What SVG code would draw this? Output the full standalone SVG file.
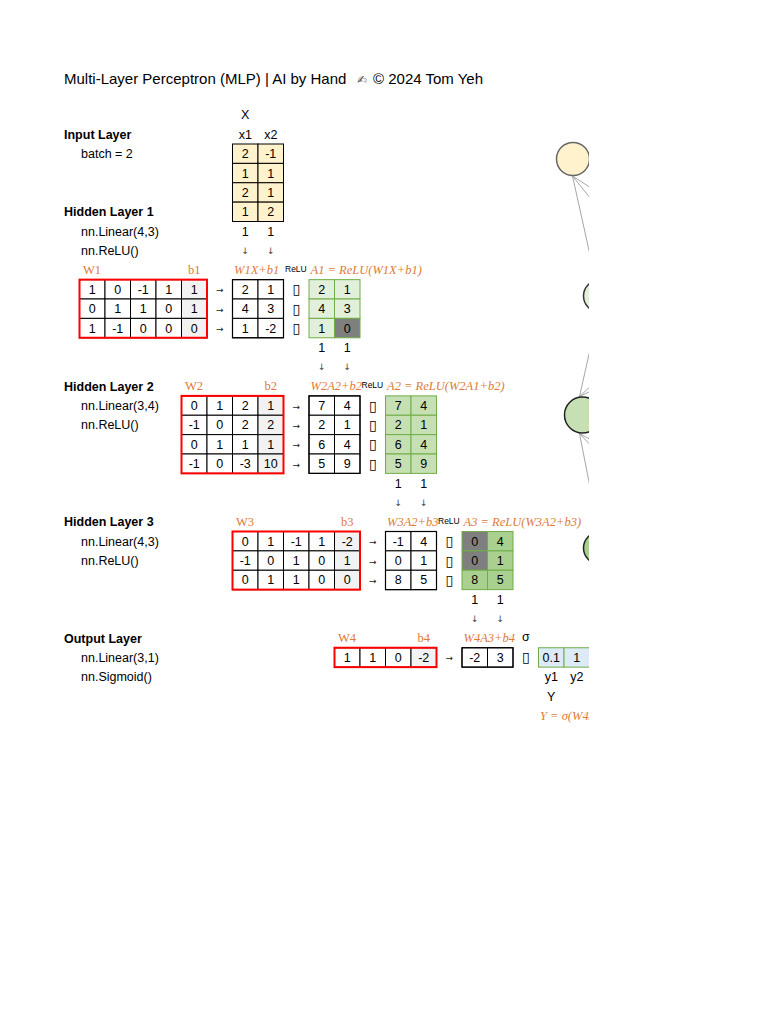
<svg xmlns="http://www.w3.org/2000/svg" width="768" height="1024" viewBox="0 0 768 1024">
<defs>
<clipPath id="page"><rect x="0" y="0" width="589" height="1024"/></clipPath>
<style>
text{font-family:"Liberation Sans",Arial,sans-serif;font-size:12.5px;fill:#000}
.m{text-anchor:middle}
.bd{font-weight:bold}
.o{font-family:"Liberation Serif","Times New Roman",serif;fill:#E07A36}
.i{font-style:italic}
.rl{font-size:8.5px}
.ar{font-family:"DejaVu Sans",sans-serif;font-size:9px;text-anchor:middle;fill:#222}
.dn{font-family:"DejaVu Sans",sans-serif;font-size:9px;text-anchor:middle;fill:#444}
.tf{font-family:"DejaVu Sans",sans-serif;font-size:14px;text-anchor:middle}
.k{fill:#fff;stroke:#000;stroke-width:1}
.kb{fill:#f2f2f2;stroke:#000;stroke-width:1}
.ky{fill:#FFF2CC;stroke:#000;stroke-width:1}
.g1{fill:#E2EFDA;stroke:#70AD47;stroke-width:1}
.g2{fill:#C6E0B4;stroke:#70AD47;stroke-width:1}
.g3{fill:#A9D08E;stroke:#70AD47;stroke-width:1}
.gr{fill:#7F7F7F;stroke:#70AD47;stroke-width:1}
.bl{fill:#DDEBF7;stroke:#70AD47;stroke-width:1}
.red{fill:none;stroke:#FF0000;stroke-width:2}
.ob{fill:none;stroke:#000;stroke-width:1.2}
.edge{stroke:#A6A6A6;stroke-width:1;fill:none}
</style>
</defs>
<rect width="768" height="1024" fill="#fff"/>
<g clip-path="url(#page)">

<g id="title">
<text x="64" y="84" style="font-size:15px">Multi-Layer Perceptron (MLP) | AI by Hand<tspan x="357" style="font-family:'DejaVu Sans',sans-serif;font-size:12px;fill:#555">✍</tspan><tspan x="373">© 2024 Tom Yeh</tspan></text>
</g>

<g id="layer-labels">
<text x="64" y="138.8" class="bd">Input Layer</text>
<text x="81" y="158.2">batch = 2</text>
<text x="64" y="216.3" class="bd">Hidden Layer 1</text>
<text x="81" y="235.7">nn.Linear(4,3)</text>
<text x="81" y="255.1">nn.ReLU()</text>
<text x="64" y="390.7" class="bd">Hidden Layer 2</text>
<text x="81" y="410.1">nn.Linear(3,4)</text>
<text x="81" y="429.4">nn.ReLU()</text>
<text x="64" y="526.3" class="bd">Hidden Layer 3</text>
<text x="81" y="545.7">nn.Linear(4,3)</text>
<text x="81" y="565.1">nn.ReLU()</text>
<text x="64" y="642.6" class="bd">Output Layer</text>
<text x="81" y="661.9">nn.Linear(3,1)</text>
<text x="81" y="681.3">nn.Sigmoid()</text>
</g>

<g id="input-X">
<text x="245.25" y="119.4" class="m">X</text>
<text x="245.25" y="138.8" class="m">x1</text>
<text x="270.75" y="138.8" class="m">x2</text>
<rect x="232.5" y="144" width="25.5" height="19.375" class="ky"/><rect x="258" y="144" width="25.5" height="19.375" class="ky"/>
<rect x="232.5" y="163.38" width="25.5" height="19.375" class="ky"/><rect x="258" y="163.38" width="25.5" height="19.375" class="ky"/>
<rect x="232.5" y="182.75" width="25.5" height="19.375" class="ky"/><rect x="258" y="182.75" width="25.5" height="19.375" class="ky"/>
<rect x="232.5" y="202.13" width="25.5" height="19.375" class="ky"/><rect x="258" y="202.13" width="25.5" height="19.375" class="ky"/>
<text x="245.25" y="158.2" class="m">2</text><text x="270.75" y="158.2" class="m">-1</text>
<text x="245.25" y="177.6" class="m">1</text><text x="270.75" y="177.6" class="m">1</text>
<text x="245.25" y="196.9" class="m">2</text><text x="270.75" y="196.9" class="m">1</text>
<text x="245.25" y="216.3" class="m">1</text><text x="270.75" y="216.3" class="m">2</text>
<text x="245.25" y="235.7" class="m">1</text><text x="270.75" y="235.7" class="m">1</text>
<text x="245.25" y="253.8" class="dn">↓</text><text x="270.75" y="253.8" class="dn">↓</text>
</g>

<g id="layer1">
<text x="83" y="274.1" class="o">W1</text>
<text x="194.25" y="274.1" class="o m">b1</text>
<text x="234" y="274.1" class="o i">W1X+b1</text>
<text x="285" y="271.7" class="rl">ReLU</text>
<text x="310.5" y="274.1" class="o i">A1 = ReLU(W1X+b1)</text>
<g id="W1">
<rect x="79.5" y="279.63" width="25.5" height="19.375" class="k"/><rect x="105" y="279.63" width="25.5" height="19.375" class="k"/><rect x="130.5" y="279.63" width="25.5" height="19.375" class="k"/><rect x="156" y="279.63" width="25.5" height="19.375" class="k"/><rect x="181.5" y="279.63" width="25.5" height="19.375" class="kb"/>
<rect x="79.5" y="299" width="25.5" height="19.375" class="k"/><rect x="105" y="299" width="25.5" height="19.375" class="k"/><rect x="130.5" y="299" width="25.5" height="19.375" class="k"/><rect x="156" y="299" width="25.5" height="19.375" class="k"/><rect x="181.5" y="299" width="25.5" height="19.375" class="kb"/>
<rect x="79.5" y="318.38" width="25.5" height="19.375" class="k"/><rect x="105" y="318.38" width="25.5" height="19.375" class="k"/><rect x="130.5" y="318.38" width="25.5" height="19.375" class="k"/><rect x="156" y="318.38" width="25.5" height="19.375" class="k"/><rect x="181.5" y="318.38" width="25.5" height="19.375" class="kb"/>
<rect x="79.5" y="279.63" width="127.5" height="58.13" class="red"/>
<text x="92.25" y="293.8" class="m">1</text><text x="117.75" y="293.8" class="m">0</text><text x="143.25" y="293.8" class="m">-1</text><text x="168.75" y="293.8" class="m">1</text><text x="194.25" y="293.8" class="m">1</text>
<text x="92.25" y="313.2" class="m">0</text><text x="117.75" y="313.2" class="m">1</text><text x="143.25" y="313.2" class="m">1</text><text x="168.75" y="313.2" class="m">0</text><text x="194.25" y="313.2" class="m">1</text>
<text x="92.25" y="332.6" class="m">1</text><text x="117.75" y="332.6" class="m">-1</text><text x="143.25" y="332.6" class="m">0</text><text x="168.75" y="332.6" class="m">0</text><text x="194.25" y="332.6" class="m">0</text>
</g>
<text x="219.75" y="293.3" class="ar">→</text><text x="219.75" y="312.7" class="ar">→</text><text x="219.75" y="332.1" class="ar">→</text>
<g id="Z1">
<rect x="232.5" y="279.63" width="25.5" height="19.375" class="k"/><rect x="258" y="279.63" width="25.5" height="19.375" class="k"/>
<rect x="232.5" y="299" width="25.5" height="19.375" class="k"/><rect x="258" y="299" width="25.5" height="19.375" class="k"/>
<rect x="232.5" y="318.38" width="25.5" height="19.375" class="k"/><rect x="258" y="318.38" width="25.5" height="19.375" class="k"/>
<rect x="232.5" y="279.63" width="51" height="58.13" class="ob"/>
<text x="245.25" y="293.8" class="m">2</text><text x="270.75" y="293.8" class="m">1</text>
<text x="245.25" y="313.2" class="m">4</text><text x="270.75" y="313.2" class="m">3</text>
<text x="245.25" y="332.6" class="m">1</text><text x="270.75" y="332.6" class="m">-2</text>
</g>
<text x="296.25" y="294.3" class="tf">▯</text><text x="296.25" y="313.7" class="tf">▯</text><text x="296.25" y="333.1" class="tf">▯</text>
<g id="A1">
<rect x="309" y="279.63" width="25.5" height="19.375" class="g1"/><rect x="334.5" y="279.63" width="25.5" height="19.375" class="g1"/>
<rect x="309" y="299" width="25.5" height="19.375" class="g1"/><rect x="334.5" y="299" width="25.5" height="19.375" class="g1"/>
<rect x="309" y="318.38" width="25.5" height="19.375" class="g1"/><rect x="334.5" y="318.38" width="25.5" height="19.375" class="gr"/>
<text x="321.75" y="293.8" class="m">2</text><text x="347.25" y="293.8" class="m">1</text>
<text x="321.75" y="313.2" class="m">4</text><text x="347.25" y="313.2" class="m">3</text>
<text x="321.75" y="332.6" class="m">1</text><text x="347.25" y="332.6" class="m">0</text>
<text x="321.75" y="351.9" class="m">1</text><text x="347.25" y="351.9" class="m">1</text>
<text x="321.75" y="370" class="dn">↓</text><text x="347.25" y="370" class="dn">↓</text>
</g>
</g>

<g id="layer2">
<text x="185" y="390.4" class="o">W2</text>
<text x="270.75" y="390.4" class="o m">b2</text>
<text x="310.5" y="390.4" class="o i">W2A2+b2</text>
<text x="361.5" y="388" class="rl">ReLU</text>
<text x="387" y="390.4" class="o i">A2 = ReLU(W2A1+b2)</text>
<g id="W2">
<rect x="181.5" y="395.88" width="25.5" height="19.375" class="k"/><rect x="207" y="395.88" width="25.5" height="19.375" class="k"/><rect x="232.5" y="395.88" width="25.5" height="19.375" class="k"/><rect x="258" y="395.88" width="25.5" height="19.375" class="kb"/>
<rect x="181.5" y="415.25" width="25.5" height="19.375" class="k"/><rect x="207" y="415.25" width="25.5" height="19.375" class="k"/><rect x="232.5" y="415.25" width="25.5" height="19.375" class="k"/><rect x="258" y="415.25" width="25.5" height="19.375" class="kb"/>
<rect x="181.5" y="434.63" width="25.5" height="19.375" class="k"/><rect x="207" y="434.63" width="25.5" height="19.375" class="k"/><rect x="232.5" y="434.63" width="25.5" height="19.375" class="k"/><rect x="258" y="434.63" width="25.5" height="19.375" class="kb"/>
<rect x="181.5" y="454" width="25.5" height="19.375" class="k"/><rect x="207" y="454" width="25.5" height="19.375" class="k"/><rect x="232.5" y="454" width="25.5" height="19.375" class="k"/><rect x="258" y="454" width="25.5" height="19.375" class="kb"/>
<rect x="181.5" y="395.88" width="102" height="77.5" class="red"/>
<text x="194.25" y="410.1" class="m">0</text><text x="219.75" y="410.1" class="m">1</text><text x="245.25" y="410.1" class="m">2</text><text x="270.75" y="410.1" class="m">1</text>
<text x="194.25" y="429.4" class="m">-1</text><text x="219.75" y="429.4" class="m">0</text><text x="245.25" y="429.4" class="m">2</text><text x="270.75" y="429.4" class="m">2</text>
<text x="194.25" y="448.8" class="m">0</text><text x="219.75" y="448.8" class="m">1</text><text x="245.25" y="448.8" class="m">1</text><text x="270.75" y="448.8" class="m">1</text>
<text x="194.25" y="468.2" class="m">-1</text><text x="219.75" y="468.2" class="m">0</text><text x="245.25" y="468.2" class="m">-3</text><text x="270.75" y="468.2" class="m">10</text>
</g>
<text x="296.25" y="409.6" class="ar">→</text><text x="296.25" y="428.9" class="ar">→</text><text x="296.25" y="448.3" class="ar">→</text><text x="296.25" y="467.7" class="ar">→</text>
<g id="Z2">
<rect x="309" y="395.88" width="25.5" height="19.375" class="k"/><rect x="334.5" y="395.88" width="25.5" height="19.375" class="k"/>
<rect x="309" y="415.25" width="25.5" height="19.375" class="k"/><rect x="334.5" y="415.25" width="25.5" height="19.375" class="k"/>
<rect x="309" y="434.63" width="25.5" height="19.375" class="k"/><rect x="334.5" y="434.63" width="25.5" height="19.375" class="k"/>
<rect x="309" y="454" width="25.5" height="19.375" class="k"/><rect x="334.5" y="454" width="25.5" height="19.375" class="k"/>
<rect x="309" y="395.88" width="51" height="77.5" class="ob"/>
<text x="321.75" y="410.1" class="m">7</text><text x="347.25" y="410.1" class="m">4</text>
<text x="321.75" y="429.4" class="m">2</text><text x="347.25" y="429.4" class="m">1</text>
<text x="321.75" y="448.8" class="m">6</text><text x="347.25" y="448.8" class="m">4</text>
<text x="321.75" y="468.2" class="m">5</text><text x="347.25" y="468.2" class="m">9</text>
</g>
<text x="372.75" y="410.6" class="tf">▯</text><text x="372.75" y="429.9" class="tf">▯</text><text x="372.75" y="449.3" class="tf">▯</text><text x="372.75" y="468.7" class="tf">▯</text>
<g id="A2">
<rect x="385.5" y="395.88" width="25.5" height="19.375" class="g2"/><rect x="411" y="395.88" width="25.5" height="19.375" class="g2"/>
<rect x="385.5" y="415.25" width="25.5" height="19.375" class="g2"/><rect x="411" y="415.25" width="25.5" height="19.375" class="g2"/>
<rect x="385.5" y="434.63" width="25.5" height="19.375" class="g2"/><rect x="411" y="434.63" width="25.5" height="19.375" class="g2"/>
<rect x="385.5" y="454" width="25.5" height="19.375" class="g2"/><rect x="411" y="454" width="25.5" height="19.375" class="g2"/>
<text x="398.25" y="410.1" class="m">7</text><text x="423.75" y="410.1" class="m">4</text>
<text x="398.25" y="429.4" class="m">2</text><text x="423.75" y="429.4" class="m">1</text>
<text x="398.25" y="448.8" class="m">6</text><text x="423.75" y="448.8" class="m">4</text>
<text x="398.25" y="468.2" class="m">5</text><text x="423.75" y="468.2" class="m">9</text>
<text x="398.25" y="487.6" class="m">1</text><text x="423.75" y="487.6" class="m">1</text>
<text x="398.25" y="505.6" class="dn">↓</text><text x="423.75" y="505.6" class="dn">↓</text>
</g>
</g>

<g id="layer3">
<text x="236" y="526" class="o">W3</text>
<text x="347.25" y="526" class="o m">b3</text>
<text x="387" y="526" class="o i">W3A2+b3</text>
<text x="438" y="523.6" class="rl">ReLU</text>
<text x="463.5" y="526" class="o i">A3 = ReLU(W3A2+b3)</text>
<g id="W3">
<rect x="232.5" y="531.5" width="25.5" height="19.375" class="k"/><rect x="258" y="531.5" width="25.5" height="19.375" class="k"/><rect x="283.5" y="531.5" width="25.5" height="19.375" class="k"/><rect x="309" y="531.5" width="25.5" height="19.375" class="k"/><rect x="334.5" y="531.5" width="25.5" height="19.375" class="kb"/>
<rect x="232.5" y="550.88" width="25.5" height="19.375" class="k"/><rect x="258" y="550.88" width="25.5" height="19.375" class="k"/><rect x="283.5" y="550.88" width="25.5" height="19.375" class="k"/><rect x="309" y="550.88" width="25.5" height="19.375" class="k"/><rect x="334.5" y="550.88" width="25.5" height="19.375" class="kb"/>
<rect x="232.5" y="570.25" width="25.5" height="19.375" class="k"/><rect x="258" y="570.25" width="25.5" height="19.375" class="k"/><rect x="283.5" y="570.25" width="25.5" height="19.375" class="k"/><rect x="309" y="570.25" width="25.5" height="19.375" class="k"/><rect x="334.5" y="570.25" width="25.5" height="19.375" class="kb"/>
<rect x="232.5" y="531.5" width="127.5" height="58.13" class="red"/>
<text x="245.25" y="545.7" class="m">0</text><text x="270.75" y="545.7" class="m">1</text><text x="296.25" y="545.7" class="m">-1</text><text x="321.75" y="545.7" class="m">1</text><text x="347.25" y="545.7" class="m">-2</text>
<text x="245.25" y="565.1" class="m">-1</text><text x="270.75" y="565.1" class="m">0</text><text x="296.25" y="565.1" class="m">1</text><text x="321.75" y="565.1" class="m">0</text><text x="347.25" y="565.1" class="m">1</text>
<text x="245.25" y="584.4" class="m">0</text><text x="270.75" y="584.4" class="m">1</text><text x="296.25" y="584.4" class="m">1</text><text x="321.75" y="584.4" class="m">0</text><text x="347.25" y="584.4" class="m">0</text>
</g>
<text x="372.75" y="545.2" class="ar">→</text><text x="372.75" y="564.6" class="ar">→</text><text x="372.75" y="583.9" class="ar">→</text>
<g id="Z3">
<rect x="385.5" y="531.5" width="25.5" height="19.375" class="k"/><rect x="411" y="531.5" width="25.5" height="19.375" class="k"/>
<rect x="385.5" y="550.88" width="25.5" height="19.375" class="k"/><rect x="411" y="550.88" width="25.5" height="19.375" class="k"/>
<rect x="385.5" y="570.25" width="25.5" height="19.375" class="k"/><rect x="411" y="570.25" width="25.5" height="19.375" class="k"/>
<rect x="385.5" y="531.5" width="51" height="58.13" class="ob"/>
<text x="398.25" y="545.7" class="m">-1</text><text x="423.75" y="545.7" class="m">4</text>
<text x="398.25" y="565.1" class="m">0</text><text x="423.75" y="565.1" class="m">1</text>
<text x="398.25" y="584.4" class="m">8</text><text x="423.75" y="584.4" class="m">5</text>
</g>
<text x="449.25" y="546.2" class="tf">▯</text><text x="449.25" y="565.6" class="tf">▯</text><text x="449.25" y="584.9" class="tf">▯</text>
<g id="A3">
<rect x="462" y="531.5" width="25.5" height="19.375" class="gr"/><rect x="487.5" y="531.5" width="25.5" height="19.375" class="g3"/>
<rect x="462" y="550.88" width="25.5" height="19.375" class="gr"/><rect x="487.5" y="550.88" width="25.5" height="19.375" class="g3"/>
<rect x="462" y="570.25" width="25.5" height="19.375" class="g3"/><rect x="487.5" y="570.25" width="25.5" height="19.375" class="g3"/>
<text x="474.75" y="545.7" class="m">0</text><text x="500.25" y="545.7" class="m">4</text>
<text x="474.75" y="565.1" class="m">0</text><text x="500.25" y="565.1" class="m">1</text>
<text x="474.75" y="584.4" class="m">8</text><text x="500.25" y="584.4" class="m">5</text>
<text x="474.75" y="603.8" class="m">1</text><text x="500.25" y="603.8" class="m">1</text>
<text x="474.75" y="621.9" class="dn">↓</text><text x="500.25" y="621.9" class="dn">↓</text>
</g>
</g>

<g id="output">
<text x="338" y="642.3" class="o">W4</text>
<text x="423.75" y="642.3" class="o m">b4</text>
<text x="463.5" y="642.3" class="o i">W4A3+b4</text>
<text x="525.75" y="641" class="m">σ</text>
<g id="W4">
<rect x="334.5" y="647.75" width="25.5" height="19.375" class="k"/><rect x="360" y="647.75" width="25.5" height="19.375" class="k"/><rect x="385.5" y="647.75" width="25.5" height="19.375" class="k"/><rect x="411" y="647.75" width="25.5" height="19.375" class="kb"/>
<rect x="334.5" y="647.75" width="102" height="19.375" class="red"/>
<text x="347.25" y="661.9" class="m">1</text><text x="372.75" y="661.9" class="m">1</text><text x="398.25" y="661.9" class="m">0</text><text x="423.75" y="661.9" class="m">-2</text>
</g>
<text x="449.25" y="661.4" class="ar">→</text>
<g id="Z4">
<rect x="462" y="647.75" width="25.5" height="19.375" class="k"/><rect x="487.5" y="647.75" width="25.5" height="19.375" class="k"/>
<rect x="462" y="647.75" width="51" height="19.375" class="ob"/>
<text x="474.75" y="661.9" class="m">-2</text><text x="500.25" y="661.9" class="m">3</text>
</g>
<text x="525.75" y="662.4" class="tf">▯</text>
<g id="Y">
<rect x="538.5" y="647.75" width="25.5" height="19.375" class="bl"/><rect x="564" y="647.75" width="25.5" height="19.375" class="bl"/>
<text x="551.25" y="661.9" class="m">0.1</text><text x="576.75" y="661.9" class="m">1</text>
<text x="551.25" y="681.3" class="m">y1</text><text x="576.75" y="681.3" class="m">y2</text>
<text x="551.25" y="700.7" class="m">Y</text>
<text x="540" y="719.8" class="o i">Y = σ(W4A3+b4)</text>
</g>
</g>

<g id="connectors">
<line x1="572.5" y1="176" x2="595" y2="190.6" class="edge"/>
<line x1="572.5" y1="176" x2="595" y2="204" class="edge"/>
<line x1="572.5" y1="176" x2="592" y2="264" class="edge"/>
<line x1="579.5" y1="396.5" x2="592" y2="341" class="edge"/>
<line x1="579.5" y1="396.5" x2="595" y2="382" class="edge"/>
<line x1="579.5" y1="396.5" x2="595" y2="389" class="edge"/>
<line x1="579.5" y1="433.5" x2="595" y2="442" class="edge"/>
<line x1="579.5" y1="433.5" x2="595" y2="450" class="edge"/>
<line x1="579.5" y1="433.5" x2="592" y2="497" class="edge"/>
</g>

<g id="node-input"><circle cx="573" cy="159" r="16.5" fill="#FFF2CC" stroke="#666" stroke-width="1.5"/></g>
<g id="node-h1"><circle cx="599.5" cy="296" r="16" fill="#E2EFDA" stroke="#333" stroke-width="1.5"/></g>
<g id="node-h2"><circle cx="582.5" cy="415" r="18" fill="#C6E0B4" stroke="#222" stroke-width="1.5"/></g>
<g id="node-h3"><circle cx="599.5" cy="548" r="16" fill="#A9D08E" stroke="#222" stroke-width="1.5"/></g>

</g>
</svg>
